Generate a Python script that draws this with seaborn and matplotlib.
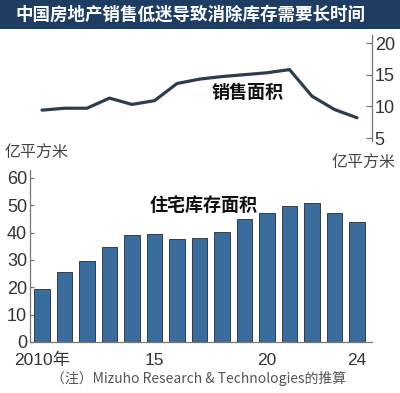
import matplotlib
matplotlib.use("Agg")
import matplotlib.pyplot as plt
import seaborn as sns
import numpy as np
import pandas as pd

years = list(range(2010, 2025))
sales_area = [9.4, 9.7, 9.7, 11.3, 10.3, 10.9, 13.6, 14.3, 14.7, 15.0, 15.3, 15.8, 11.6, 9.5, 8.2]
inventory_area = [19.4, 25.6, 29.7, 34.9, 39.2, 39.6, 37.8, 38.1, 40.4, 45.0, 47.1, 49.8, 50.9, 47.3, 43.8]
xtick_pos = [0, 5, 10, 14]
xtick_labels = ["2010年", "15", "20", "24"]
top_yticks = [5, 10, 15, 20]
bottom_yticks = [0, 10, 20, 30, 40, 50, 60]

title = "中国房地产销售低迷导致消除库存需要长时间"
line_label = "销售面积"
bar_label = "住宅库存面积"
unit = "亿平方米"
note = "（注）Mizuho Research & Technologies的推算"

sns.set_theme(style="white")
plt.rcParams['font.family'] = ['Noto Sans CJK SC', 'DejaVu Sans']
num_font = ['Liberation Sans', 'DejaVu Sans']
xnum_font = ['Liberation Sans', 'Noto Sans CJK SC', 'DejaVu Sans']

W, H = 400, 393
fig = plt.figure(figsize=(W / 100, H / 100), dpi=100)
fig.patch.set_facecolor("white")

def ax_rect(x0, y0, x1, y1):
    return [x0 / W, 1 - y1 / H, (x1 - x0) / W, (y1 - y0) / H]

# title bar
bar_ax = fig.add_axes(ax_rect(0, 0, 400, 29))
bar_ax.set_facecolor("#1f3d63")
bar_ax.set_xticks([]); bar_ax.set_yticks([])
for s in bar_ax.spines.values():
    s.set_visible(False)
bar_ax.text(15 / W, 0.5, title, color="white", fontsize=12.6, fontweight="bold",
            va="center", ha="left", transform=bar_ax.transAxes)

df = pd.DataFrame({"x": np.arange(len(years)), "year": [str(y) for y in years],
                   "sales": sales_area, "inventory": inventory_area})

ppu = 22.5
xl = (-12 / ppu, 14 + 15 / ppu)

# top line chart
ax1 = fig.add_axes(ax_rect(30, 35, 372, 141))
sns.lineplot(data=df, x="x", y="sales", ax=ax1, color="#2e3c4c", linewidth=2.3)
ax1.set_xlim(*xl)
ppy = 95 / 15
ax1.set_ylim(5 - 3 / ppy, 20 + 8 / ppy)
ax1.set_facecolor("none")
for s in ["left", "top", "bottom"]:
    ax1.spines[s].set_visible(False)
ax1.spines["right"].set_color("#777777")
ax1.spines["right"].set_linewidth(0.9)
ax1.yaxis.tick_right()
ax1.set_yticks(top_yticks)
ax1.set_yticklabels([str(v) for v in top_yticks], fontfamily=num_font, fontsize=13, color="#333333")
ax1.tick_params(axis="y", direction="in", length=4, width=0.9, color="#777777", pad=2, right=True, left=False)
ax1.set_xticks([])
ax1.set_xlabel(""); ax1.set_ylabel("")
fig.text(212 / W, 1 - 92 / H, line_label, fontsize=13, fontweight="bold",
         va="center", ha="left", color="#111111")
fig.text(396 / W, 1 - 163 / H, unit, fontsize=11.5, color="#444444", ha="right", va="center")

# bottom bar chart
ax2 = fig.add_axes(ax_rect(30, 170, 372, 342))
sns.barplot(data=df, x="year", y="inventory", ax=ax2, color="#3a6c9c", width=0.68,
            edgecolor="#1c2b3c", linewidth=0.6, saturation=1)
ax2.set_xlim(*xl)
ax2.set_ylim(0, 172 / (164 / 60))
ax2.set_facecolor("none")
for s in ["right", "top"]:
    ax2.spines[s].set_visible(False)
for s in ["left", "bottom"]:
    ax2.spines[s].set_color("#777777")
    ax2.spines[s].set_linewidth(0.9)
ax2.set_yticks(bottom_yticks)
ax2.set_yticklabels([str(v) for v in bottom_yticks], fontfamily=num_font, fontsize=13, color="#333333")
ax2.tick_params(axis="y", direction="in", length=3, width=0.9, color="#777777", pad=2, left=True)
ax2.set_xticks(xtick_pos)
ax2.set_xticklabels(xtick_labels, fontfamily=xnum_font, fontsize=12.5, color="#333333")
ax2.tick_params(axis="x", length=0, pad=8)
ax2.set_xlabel(""); ax2.set_ylabel("")
fig.text(5 / W, 1 - 153 / H, unit, fontsize=11.5, color="#444444", ha="left", va="center")
fig.text(150 / W, 1 - 205 / H, bar_label, fontsize=13, fontweight="bold", color="#111111",
         ha="left", va="center")

fig.text(199 / W, 1 - 379 / H, note, fontsize=10, color="#555555", ha="center", va="center")

fig.savefig("out.png", dpi=100)
